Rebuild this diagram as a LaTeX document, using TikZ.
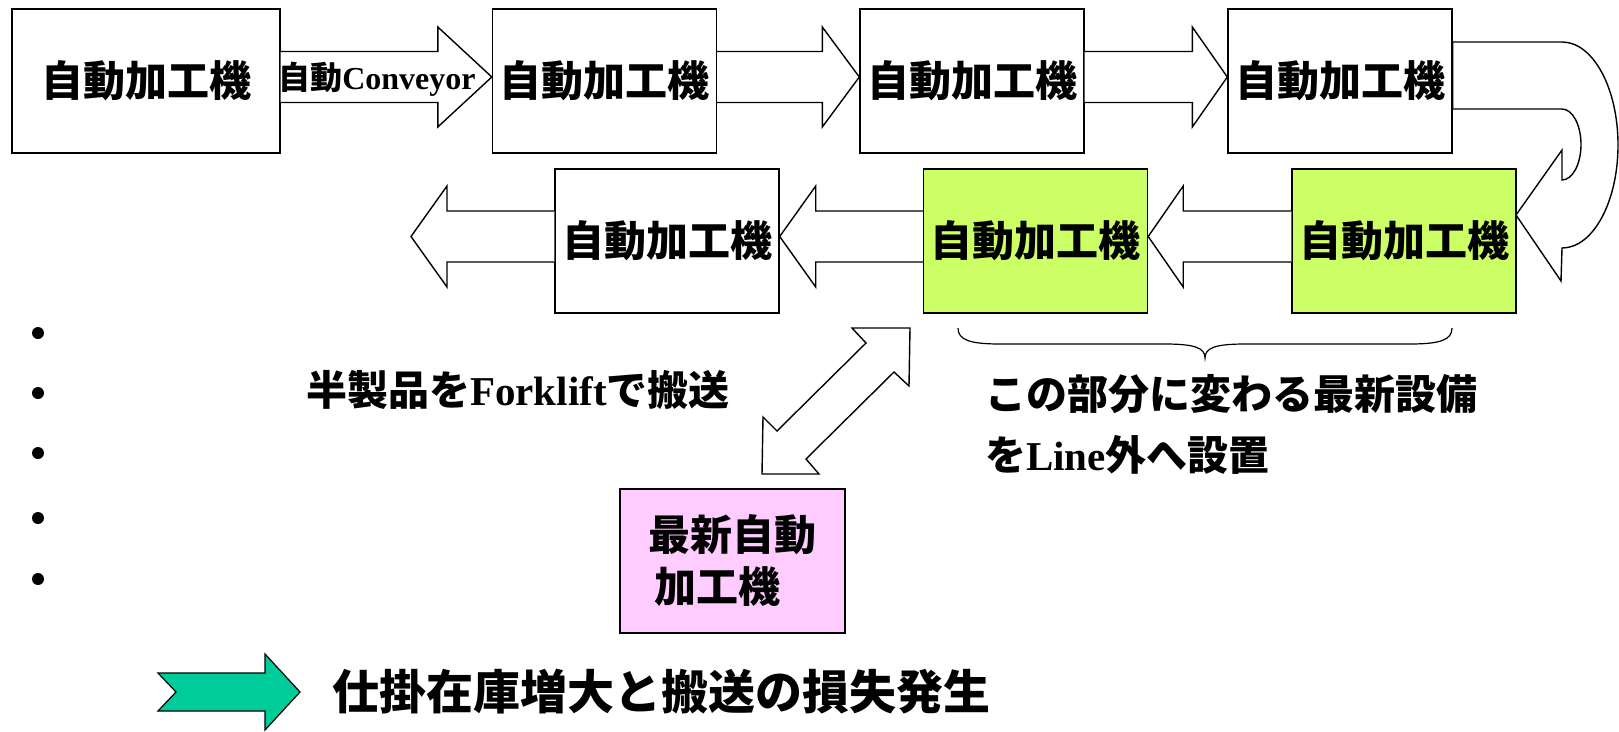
\documentclass[tikz,border=0pt]{standalone}
\usepackage{fontspec}
\setmainfont{Liberation Serif}
\newfontfamily\jp{Noto Sans CJK JP}
\usetikzlibrary{calc}
\definecolor{limeg}{RGB}{204,255,102}
\definecolor{pinkb}{RGB}{255,204,255}
\definecolor{tealg}{RGB}{0,204,153}
\tikzset{
  machine/.style={draw, line width=1.4pt, minimum width=224pt, minimum height=144pt, inner sep=0pt,
    font=\jp\bfseries\fontsize{42}{50}\selectfont},
  blockarr/.style={draw, fill=white, line width=1.4pt, line join=miter},
  lbl/.style={inner sep=0pt, font=\bfseries\fontsize{41}{52}\selectfont},
}
\newcommand\rarrow[3]{% start point, tip point, head length (pointing right)
  \draw[blockarr] ($(#1)+(0,-25.5)$) -- ($(#2)+(-#3,-25.5)$) -- ($(#2)+(-#3,-50)$) -- (#2)
    -- ($(#2)+(-#3,50)$) -- ($(#2)+(-#3,25.5)$) -- ($(#1)+(0,25.5)$);}
\newcommand\larrow[3]{% start point, tip point, head length (pointing left)
  \draw[blockarr] ($(#1)+(0,-25.5)$) -- ($(#2)+(#3,-25.5)$) -- ($(#2)+(#3,-50.5)$) -- (#2)
    -- ($(#2)+(#3,50.5)$) -- ($(#2)+(#3,25.5)$) -- ($(#1)+(0,25.5)$);}
\begin{document}
\begin{tikzpicture}[x=1pt,y=-1pt]
\useasboundingbox (0,0) rectangle (1619,731);
% machines
\node[machine, minimum width=268pt] (m1) at (146,81) {自動加工機};
\node[machine] (m2) at (604.5,81) {自動加工機};
\node[machine] (m3) at (972,81) {自動加工機};
\node[machine] (m4) at (1340,81) {自動加工機};
\node[machine] (m5) at (667,241) {自動加工機};
\node[machine, fill=limeg] (m6) at (1035.5,241) {自動加工機};
\node[machine, fill=limeg] (m7) at (1404,241) {自動加工機};
\node[machine, fill=pinkb, minimum width=225pt, align=left,
  font=\jp\bfseries\fontsize{42}{52}\selectfont] (m8) at (732.5,561) {最新自動\\\hspace*{6pt}加工機};
% row 1 conveyors
\coordinate (s1) at ($(m1.east)+(0,-4)$);
\coordinate (t1) at ($(m2.west)+(0,-4)$);
\coordinate (s2) at ($(m2.east)+(0,-4)$);
\coordinate (t2) at ($(m3.west)+(0,-4)$);
\coordinate (s3) at ($(m3.east)+(0,-4)$);
\coordinate (t3) at ($(m4.west)+(0,-4)$);
\rarrow{s1}{t1}{54}
\rarrow{s2}{t2}{37}
\rarrow{s3}{t3}{35}
\node[inner sep=0pt, font=\bfseries\fontsize{32}{38}\selectfont] (cv) at (377,79) {{\jp 自動}Conveyor};
% row 2 conveyors
\coordinate (s4) at ($(m7.west)+(0,-4.5)$);
\coordinate (t4) at ($(m6.east)+(0,-4.5)$);
\coordinate (s5) at ($(m6.west)+(0,-4.5)$);
\coordinate (t5) at ($(m5.east)+(0,-4.5)$);
\coordinate (s6) at ($(m5.west)+(0,-4.5)$);
\coordinate (out) at (411,236.5);
\larrow{s4}{t4}{35}
\larrow{s5}{t5}{36}
\larrow{s6}{out}{36}
% U-turn
\draw[blockarr] ($(m4.east)+(0,-39)$) -- (1562,42)
  .. controls (1593,42) and (1618,88) .. (1618,145)
  .. controls (1618,202) and (1593,248) .. (1562,248)
  -- (1561,281) -- (1516,215) -- (1562,150) -- (1562,180)
  .. controls (1572.5,180) and (1581,164) .. (1581,144.5)
  .. controls (1581,125) and (1572.5,109) .. (1562,109)
  -- ($(m4.east)+(0,28)$) -- cycle;
\draw[line width=1.4pt] (m4.north east) -- (m4.south east);
% double arrow
\draw[blockarr] (910,328) -- (852,328) -- (866,343) -- (777,431) -- (763,417) -- (762,474)
  -- (819,474) -- (806,459) -- (894,372) -- (909,386) -- cycle;
% brace
\draw[line width=1.2pt] (958,328) .. controls (958,340) and (970,344) .. (1000,344) -- (1165,344)
  .. controls (1195,344) and (1205,348) .. (1205,358)
  .. controls (1205,348) and (1215,344) .. (1245,344) -- (1410,344)
  .. controls (1440,344) and (1452,340) .. (1452,328);
% labels
\node[lbl] (fork) at (518,390) {{\jp 半製品を}Forklift{\jp で搬送}};
\node[lbl, anchor=west] (new1) at (985,394) {\jp この部分に変わる最新設備};
\node[lbl, anchor=west] (new2) at (985,455) {{\jp を}Line{\jp 外へ設置}};
% bullets
\foreach \yy [count=\i] in {333,393,453,518,579}
  \fill (38,\yy) circle (6);
% result chevron
\draw[line width=1.2pt, fill=tealg, line join=miter] (158,673) -- (265,673) -- (265,654) -- (300,692)
  -- (265,730) -- (265,711) -- (158,711) -- (176,692) -- cycle;
\node[inner sep=0pt, anchor=west, font=\jp\bfseries\fontsize{47}{55}\selectfont] (res) at (332,692)
  {仕掛在庫増大と搬送の損失発生};
\end{tikzpicture}
\end{document}
